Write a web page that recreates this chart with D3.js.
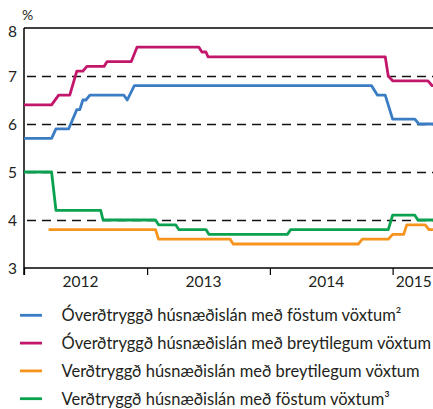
<!DOCTYPE html>
<html>
<head>
<meta charset="utf-8">
<script src="https://cdn.jsdelivr.net/npm/d3@7"></script>
<style>
  html, body { margin: 0; padding: 0; background: #fff; }
  svg { display: block; }
  text { font-family: Lato, "Open Sans", sans-serif; fill: #231f20; }
</style>
</head>
<body>
<svg id="chart" width="433" height="409"></svg>
<script>
// Interest rates on housing loans, %
const unindexedFixed = [
  ["2012-01-01", 5.7], ["2012-03-23", 5.7], ["2012-04-05", 5.9], ["2012-05-13", 5.9],
  ["2012-06-06", 6.3], ["2012-06-15", 6.3], ["2012-06-24", 6.5], ["2012-07-03", 6.5],
  ["2012-07-15", 6.6], ["2012-10-24", 6.6], ["2012-11-03", 6.5], ["2012-11-24", 6.8],
  ["2014-10-30", 6.8], ["2014-11-17", 6.6], ["2014-12-10", 6.6], ["2015-01-01", 6.1],
  ["2015-03-08", 6.1], ["2015-03-20", 6.0], ["2015-05-01", 6.0]
];
const unindexedVariable = [
  ["2012-01-01", 6.4], ["2012-03-23", 6.4], ["2012-04-13", 6.6], ["2012-05-16", 6.6],
  ["2012-06-06", 7.1], ["2012-06-24", 7.1], ["2012-07-06", 7.2], ["2012-08-26", 7.2],
  ["2012-09-04", 7.3], ["2012-11-15", 7.3], ["2012-12-02", 7.6], ["2013-06-04", 7.6],
  ["2013-06-13", 7.5], ["2013-06-25", 7.5], ["2013-07-01", 7.4], ["2014-12-10", 7.4],
  ["2014-12-19", 7.0], ["2015-01-01", 6.9], ["2015-04-16", 6.9], ["2015-04-28", 6.8],
  ["2015-05-01", 6.8]
];
const indexedVariable = [
  ["2012-03-14", 3.8], ["2013-01-26", 3.8], ["2013-02-04", 3.6], ["2013-09-05", 3.6],
  ["2013-09-14", 3.5], ["2014-09-21", 3.5], ["2014-10-03", 3.6], ["2014-12-19", 3.6],
  ["2015-01-01", 3.7], ["2015-02-03", 3.7], ["2015-02-12", 3.9], ["2015-04-08", 3.9],
  ["2015-04-19", 3.8], ["2015-05-01", 3.8]
];
const indexedFixed = [
  ["2012-01-01", 5.0], ["2012-03-23", 5.0], ["2012-04-05", 4.2], ["2012-08-16", 4.2],
  ["2012-08-23", 4.0], ["2013-01-26", 4.0], ["2013-02-04", 3.9], ["2013-03-27", 3.9],
  ["2013-04-05", 3.8], ["2013-06-25", 3.8], ["2013-07-04", 3.7], ["2014-02-22", 3.7],
  ["2014-03-04", 3.8], ["2014-12-19", 3.8], ["2015-01-01", 4.1], ["2015-03-08", 4.1],
  ["2015-03-17", 4.0], ["2015-05-01", 4.0]
];

const seriesNames = [
  "Óverðtryggð húsnæðislán með föstum vöxtum²",
  "Óverðtryggð húsnæðislán með breytilegum vöxtum",
  "Verðtryggð húsnæðislán með breytilegum vöxtum",
  "Verðtryggð húsnæðislán með föstum vöxtum³"
];
const seriesColors = ["#3b7dc4", "#c2166b", "#f7941d", "#0aa14f"];
const seriesData = [unindexedFixed, unindexedVariable, indexedVariable, indexedFixed];
// Drawing order: green and orange first, blue and magenta on top
const drawOrder = [3, 2, 0, 1];

const yTicks = [3, 4, 5, 6, 7, 8];
const gridValues = [4, 5, 6, 7];
const yearLabels = ["2012", "2013", "2014", "2015"];
const yearTicks = ["2012-01-01", "2013-01-01", "2014-01-01", "2015-01-01"];
const xDomain = ["2012-01-01", "2015-05-01"];

const parse = d3.timeParse("%Y-%m-%d");
const svg = d3.select("#chart");

const plotLeft = 24, plotRight = 433, plotTop = 28, plotBottom = 268;
const x = d3.scaleTime().domain(xDomain.map(parse)).range([plotLeft, plotRight]);
const y = d3.scaleLinear().domain([3, 8]).range([plotBottom, plotTop]);

// Dashed gridlines
svg.append("g").attr("transform", "translate(0,0.5)")
  .selectAll("line").data(gridValues).join("line")
  .attr("x1", plotLeft).attr("x2", plotRight)
  .attr("y1", d => y(d)).attr("y2", d => y(d))
  .attr("stroke", "#111").attr("stroke-width", 1.3)
  .attr("stroke-dasharray", "9,6").attr("stroke-dashoffset", -3);

// Top frame line
svg.append("line")
  .attr("x1", plotLeft).attr("x2", plotRight).attr("y1", y(8)).attr("y2", y(8))
  .attr("stroke", "#000").attr("stroke-width", 1.3);

// Y axis
const yAxis = d3.axisLeft(y).tickValues(yTicks).tickSize(0).tickPadding(7).tickFormat(d3.format("d"));
const yg = svg.append("g").attr("transform", `translate(${plotLeft},0)`).call(yAxis);
yg.select(".domain").attr("stroke", "#000").attr("stroke-width", 1.5)
  .attr("d", `M0,${plotTop}V${plotBottom + 7}`);
yg.selectAll(".tick text")
  .style("font-size", "15.5px").style("font-family", "Lato, 'Open Sans', sans-serif").attr("fill", "#231f20")
  .attr("dy", d => d === 8 ? "0.55em" : "0.36em");

// "%" unit label
svg.append("text").attr("x", 22).attr("y", 20).style("font-size", "14px").text("%");

// X axis
const xAxis = d3.axisBottom(x).tickValues(yearTicks.map(parse)).tickSize(7).tickFormat("");
const xg = svg.append("g").attr("transform", `translate(0,${plotBottom})`).call(xAxis);
xg.select(".domain").attr("stroke", "#000").attr("stroke-width", 1.5)
  .attr("d", `M${plotLeft},0H${plotRight}`);
xg.selectAll(".tick line").attr("stroke", "#000").attr("stroke-width", 1.2);

// Year labels centred in each visible year span
const yearEnds = yearTicks.slice(1).map(parse).concat([parse(xDomain[1])]);
svg.append("g").selectAll("text").data(yearLabels).join("text")
  .attr("x", (d, i) => (x(parse(yearTicks[i])) + x(yearEnds[i])) / 2 - (i === 3 ? -1 : 5))
  .attr("y", 287)
  .attr("text-anchor", "middle")
  .style("font-size", "15.5px")
  .text(d => d);

// Series lines
const line = d3.line().x(d => x(parse(d[0]))).y(d => y(d[1]));
svg.append("g").selectAll("path").data(drawOrder).join("path")
  .attr("d", i => line(seriesData[i]))
  .attr("fill", "none")
  .attr("stroke", i => seriesColors[i])
  .attr("stroke-width", 2.8)
  .attr("stroke-linejoin", "round");

// Legend
const legend = svg.append("g").selectAll("g").data(seriesNames).join("g")
  .attr("transform", (d, i) => `translate(0,${315.3 + i * 27.8})`);
legend.append("line")
  .attr("x1", 20).attr("x2", 42).attr("y1", 0).attr("y2", 0)
  .attr("stroke", (d, i) => seriesColors[i]).attr("stroke-width", 2.8);
legend.append("text")
  .attr("x", 61.5).attr("y", 6)
  .style("font-size", "16.5px")
  .text(d => d);
</script>
</body>
</html>
